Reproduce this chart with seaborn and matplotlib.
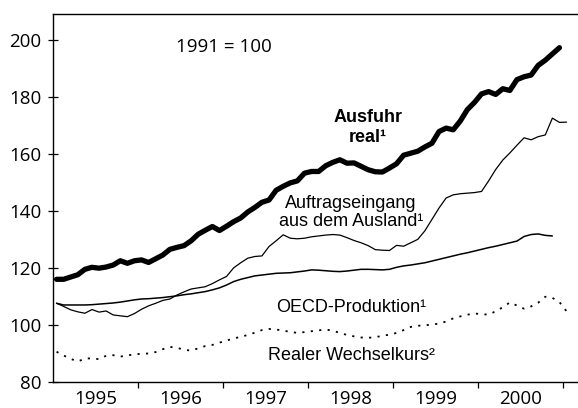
"""
plot.py
Ausfuhr, Auftragseingang, OECD-Produktion und realer Wechselkurs, 1995-2000 (1991 = 100).
"""

import numpy as np
import pandas as pd
import matplotlib
matplotlib.use("Agg")
import matplotlib.pyplot as plt
import seaborn as sns

START_YEAR = 1995

# monthly values, starting January 1995
ausfuhr = [
    116.0, 116.0, 116.8, 117.6, 119.5, 120.2, 119.9, 120.3, 121.0, 122.5, 121.6, 122.5,
    122.8, 121.9, 123.2, 124.5, 126.5, 127.2, 127.8, 129.5, 131.8, 133.2, 134.5, 133.1,
    134.6, 136.2, 137.5, 139.6, 141.2, 143.0, 143.8, 147.2, 148.6, 149.8, 150.5, 153.2,
    153.8, 153.8, 155.8, 157.0, 157.9, 156.7, 156.8, 155.6, 154.4, 153.7, 153.6, 155.0,
    156.5, 159.5, 160.2, 160.9, 162.4, 163.7, 167.8, 169.0, 168.4, 171.5, 175.5, 178.0,
    181.0, 181.8, 180.8, 182.8, 182.2, 186.0, 187.0, 187.6, 191.0, 192.8, 195.0, 197.2,
]
auftrag = [
    107.6, 106.5, 105.3, 104.6, 104.1, 105.4, 104.5, 104.9, 103.5, 103.2, 102.9, 104.0,
    105.5, 106.7, 107.6, 108.6, 109.1, 110.5, 111.6, 112.6, 113.0, 113.4, 114.5, 115.8,
    117.0, 120.0, 121.8, 123.4, 124.0, 124.2, 127.5, 129.5, 131.6, 130.4, 130.2, 130.4,
    130.9, 131.2, 131.5, 131.7, 131.5, 130.6, 129.6, 128.8, 127.8, 126.4, 126.2, 126.1,
    127.9, 127.6, 128.8, 130.0, 133.0, 137.0, 141.0, 144.5, 145.6, 146.0, 146.2, 146.4,
    146.8, 150.5, 154.5, 157.8, 160.3, 163.0, 165.6, 164.9, 166.0, 166.6, 172.5, 171.0,
    171.1,
]
oecd = [
    107.6, 107.0, 107.0, 107.0, 107.0, 107.1, 107.3, 107.5, 107.7, 108.0, 108.4, 108.8,
    109.1, 109.2, 109.4, 109.6, 109.9, 110.2, 110.6, 110.9, 111.3, 111.7, 112.3, 113.0,
    114.0, 115.2, 116.0, 116.6, 117.2, 117.5, 117.8, 118.1, 118.2, 118.3, 118.6, 118.9,
    119.3, 119.2, 119.0, 118.8, 118.7, 118.9, 119.2, 119.5, 119.5, 119.4, 119.3, 119.5,
    120.2, 120.7, 121.0, 121.4, 121.8, 122.4, 123.0, 123.6, 124.2, 124.8, 125.3, 125.9,
    126.5, 127.1, 127.6, 128.2, 128.8, 129.4, 131.0, 131.7, 131.9, 131.4, 131.2,
]
wechselkurs = [
    90.6, 89.3, 88.1, 87.2, 88.2, 88.3, 88.0, 89.2, 89.4, 88.9, 89.3, 89.7,
    89.9, 90.0, 90.5, 91.5, 92.3, 92.0, 91.3, 91.0, 91.8, 92.6, 93.0, 93.8,
    94.5, 95.3, 95.8, 96.5, 97.3, 98.2, 98.6, 98.4, 98.0, 97.6, 97.2, 97.5,
    97.8, 98.1, 98.4, 98.0, 97.2, 96.5, 96.0, 95.6, 95.5, 95.7, 96.2, 96.6,
    97.2, 98.2, 99.3, 99.7, 99.9, 100.1, 100.5, 101.2, 102.3, 103.0, 103.6, 104.0,
    103.8, 103.6, 104.8, 106.2, 107.9, 106.8, 105.7, 106.5, 107.8, 109.9, 109.5, 108.0,
    104.8,
]

years = [1995, 1996, 1997, 1998, 1999, 2000]
y_ticks = [80, 100, 120, 140, 160, 180, 200]


def to_frame(values):
    """Put a monthly series on a fractional-year axis (mid-month)."""
    t = START_YEAR + (np.arange(len(values)) + 0.5) / 12
    return pd.DataFrame({"t": t, "v": values})


def main():
    sns.set_style("ticks")
    plt.rcParams["font.family"] = ["Open Sans", "DejaVu Sans"]
    plt.rcParams["text.color"] = "black"
    plt.rcParams["xtick.color"] = "black"
    plt.rcParams["ytick.color"] = "black"

    fig = plt.figure(figsize=(5.78, 4.08), dpi=100)
    ax = fig.add_axes([53 / 578, 1 - 382 / 408, 525 / 578, 368 / 408])

    sns.lineplot(data=to_frame(ausfuhr), x="t", y="v", ax=ax, color="black",
                 linewidth=3.8, solid_capstyle="round")
    sns.lineplot(data=to_frame(auftrag), x="t", y="v", ax=ax, color="black", linewidth=0.9)
    sns.lineplot(data=to_frame(oecd), x="t", y="v", ax=ax, color="black", linewidth=1.1)
    sns.lineplot(data=to_frame(wechselkurs), x="t", y="v", ax=ax, color="black",
                 linewidth=1.3, linestyle=(0, (1.2, 3.5)))

    ax.set_xlim(START_YEAR, START_YEAR + 525 / 85)
    ax.set_ylim(80, 209)
    ax.set_xlabel("")
    ax.set_ylabel("")

    ax.set_yticks(y_ticks)
    ax.tick_params(axis="y", direction="inout", length=7, width=0.9, labelsize=13.5, pad=5)
    ax.set_xticks(np.arange(START_YEAR + 1, START_YEAR + len(years) + 1))
    ax.set_xticklabels([])
    ax.set_xticks([y + 0.5 for y in years], minor=True)
    ax.set_xticklabels([str(y) for y in years], minor=True)
    ax.tick_params(axis="x", which="major", direction="out", length=4, width=0.9)
    ax.tick_params(axis="x", which="minor", length=0, labelsize=13.5, pad=6)

    for side in ["left", "top", "bottom"]:
        ax.spines[side].set_linewidth(1.0)
        ax.spines[side].set_color("black")
    ax.spines["right"].set_visible(False)

    def px(x, y):
        return (x - 53) / 525, (382 - y) / 368

    lab = dict(transform=ax.transAxes, ha="center", va="center", fontsize=13,
               family=["Liberation Sans", "DejaVu Sans"], color="black")
    ax.text(*px(224, 47), "1991 = 100", transform=ax.transAxes, ha="center",
            va="center", fontsize=13.5)
    ax.text(*px(368, 117), "Ausfuhr", fontweight="bold", **lab)
    ax.text(*px(368, 137), "real\u00b9", fontweight="bold", **lab)
    ax.text(*px(351, 203), "Auftragseingang", **lab)
    ax.text(*px(351, 222), "aus dem Ausland\u00b9", **lab)
    ax.text(*px(351, 307), "OECD-Produktion\u00b9", **lab)
    ax.text(*px(352, 355), "Realer Wechselkurs\u00b2", **lab)

    fig.savefig("out.png", dpi=100)
    plt.close(fig)


if __name__ == "__main__":
    main()
